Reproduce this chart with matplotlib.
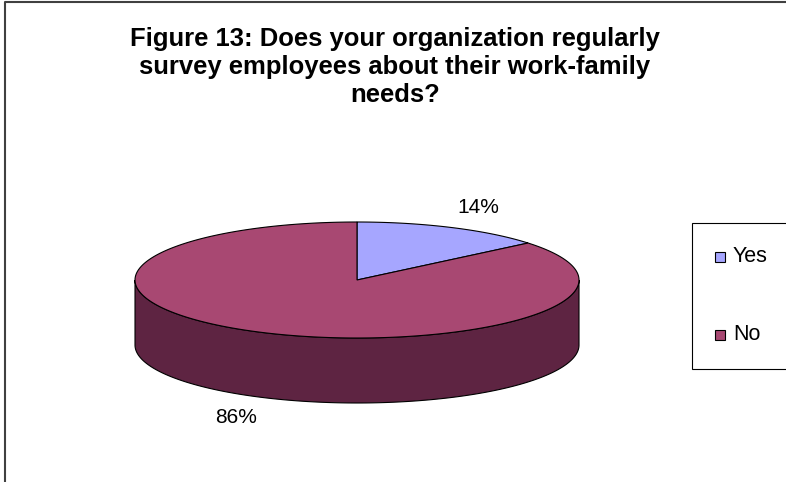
import numpy as np
import matplotlib
matplotlib.use('Agg')
import matplotlib.pyplot as plt
from matplotlib.patches import Polygon, Rectangle

# data
labels = ['Yes', 'No']
shares = [14, 86]
top_colors = ['#a6a6ff', '#a84872']
side_colors = ['#545490', '#5e2442']
title_lines = ['Figure 13: Does your organization regularly',
               'survey employees about their work-family',
               'needs?']

# pie layout (pixel space, y down)
cx, cy = 357, 280
rx, ry = 222, 58
depth = 65

plt.rcParams['font.family'] = ['Liberation Sans', 'DejaVu Sans']

fig = plt.figure(figsize=(7.86, 4.82), dpi=100)
ax = fig.add_axes([0, 0, 1, 1])
ax.set_xlim(0, 786)
ax.set_ylim(482, 0)
ax.axis('off')


def ell(t, dy=0):
    t = np.radians(t)
    return cx + rx * np.cos(t), cy - ry * np.sin(t) + dy


# slices go clockwise from the top
fr = np.array(shares) / sum(shares)
starts = 90 - 360 * np.concatenate([[0], np.cumsum(fr)[:-1]])
ends = starts - 360 * fr

# sides (front half only)
for s, e, col in zip(starts, ends, side_colors):
    for k in (-360, 0, 360):
        lo, hi = max(e, 180 + k), min(s, 360 + k)
        if hi <= lo:
            continue
        t = np.linspace(lo, hi, 200)
        x, y = ell(t)
        pts = np.column_stack([np.r_[x, x[::-1]], np.r_[y, (y + depth)[::-1]]])
        ax.add_patch(Polygon(pts, closed=True, fc=col, ec='black', lw=0.8, zorder=1))

# tops
for s, e, col in zip(starts, ends, top_colors):
    t = np.linspace(s, e, 300)
    x, y = ell(t)
    pts = np.column_stack([np.r_[cx, x], np.r_[cy, y]])
    ax.add_patch(Polygon(pts, closed=True, fc=col, ec='black', lw=0.8, zorder=2))

# percent labels
for s, e, v in zip(starts, ends, shares):
    m = np.radians((s + e) / 2)
    lx = cx + rx * 1.28 * np.cos(m)
    ly = cy - (ry + 22) * np.sin(m) + (depth if np.sin(m) < 0 else 0)
    ax.text(lx, ly, f'{v}%', fontsize=15, ha='center', va='center', zorder=3)

# title, sized so the first line is about 532 px wide
t0 = ax.text(0, 0, title_lines[0], fontsize=10, fontweight='bold')
fig.canvas.draw()
w = t0.get_window_extent().width
t0.remove()
tsize = 10 * 532 / w
for i, line in enumerate(title_lines):
    ax.text(395, 46 + 28 * i, line, fontsize=tsize, fontweight='bold',
            ha='center', va='baseline', zorder=3)

# chart frame (cut at right and bottom)
ax.plot([5, 5, 790], [490, 2, 2], color='#404040', lw=1.5, clip_on=False, zorder=4)

# legend
ax.add_patch(Rectangle((692, 223), 120, 146, fc='white', ec='black', lw=0.8, zorder=3))
for i, (lab, col) in enumerate(zip(labels, top_colors)):
    y = 257 + i * 78
    ax.add_patch(Rectangle((715, y - 5), 10, 10, fc=col, ec='black', lw=0.8, zorder=4))
    ax.text(733, y, lab, fontsize=15.5, ha='left', va='center', zorder=4)

fig.savefig('out.png', dpi=100)
